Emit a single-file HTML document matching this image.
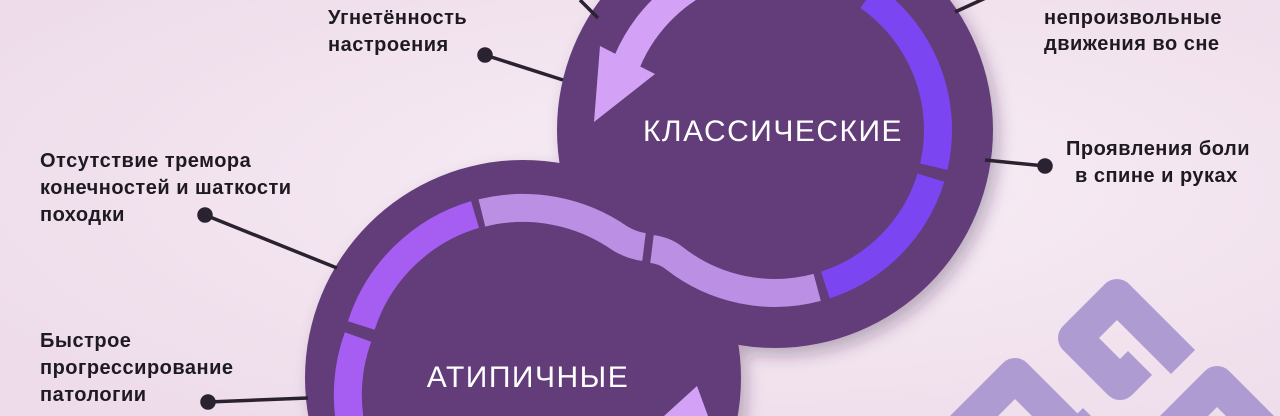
<!DOCTYPE html>
<html><head><meta charset="utf-8"><style>
html,body{margin:0;padding:0;width:1280px;height:416px;overflow:hidden;background:#f2e3ef}
svg{display:block}
text{font-family:"Liberation Sans",sans-serif}
.l{font-size:20px;font-weight:bold;fill:#1e1a22;letter-spacing:0.5px}
</style></head><body>
<svg width="1280" height="416" viewBox="0 0 1280 416" xmlns="http://www.w3.org/2000/svg">
<defs>
<radialGradient id="bg" cx="0.6" cy="0.45" r="0.7"><stop offset="0" stop-color="#f8eef6"/><stop offset="1" stop-color="#eedcea"/></radialGradient>
<filter id="sh" x="-20%" y="-20%" width="140%" height="140%"><feDropShadow dx="6" dy="8" stdDeviation="8" flood-color="#3a1f4a" flood-opacity="0.3"/></filter>
</defs>
<rect width="1280" height="416" fill="url(#bg)"/>
<g fill="none" stroke="#ae9bd2" stroke-width="34" stroke-linejoin="round">
<path d="M1183 362 L1117 296 L1075 338 L1120 383 L1140 363"/>
<path d="M950 440 L1015 375 L1070 430"/>
<path d="M1075 440 L1095 420"/>
<path d="M1160 440 L1217 383 L1280 446"/>
</g>
<g filter="url(#sh)" fill="#633d7a">
<circle cx="523" cy="378" r="218"/>
<circle cx="775" cy="130" r="218"/>
</g>
<g fill="none" stroke-width="28">
<path d="M868.5 -3.5 A163 163 0 0 1 933.8 166.7" stroke="#7c45f2"/>
<path d="M930.9 177.7 A163 163 0 0 1 825.4 285" stroke="#7c45f2"/>
<path d="M817.2 287.4 A163 163 0 0 1 674.6 258.4 C668 253 660 250 652 249" stroke="#bb8fe3"/>
<path d="M644 247 C636 246 628 243 620.5 238.7 A170 170 0 0 0 481.9 213" stroke="#bb8fe3"/>
<path d="M475 214.5 A170 170 0 0 0 361.3 325.5" stroke="#a65ef2"/>
<path d="M358 337 A170 170 0 0 0 357 450" stroke="#a65ef2"/>
<path d="M861 -15 A163 163 0 0 0 627.3 61.1" stroke="#d3a2f7"/>
</g>
<polygon points="600,46 655,74 594,122" fill="#d3a2f7"/>
<polygon points="664,416 708,416 697,386" fill="#d3a2f7"/>
<text x="773" y="141" text-anchor="middle" font-size="30" fill="#fff" letter-spacing="1.5">КЛАССИЧЕСКИЕ</text>
<text x="528" y="387" text-anchor="middle" font-size="30" fill="#fff" letter-spacing="1.5">АТИПИЧНЫЕ</text>
<g stroke="#2a2230" stroke-width="3.5" fill="#2a2230">
<line x1="485" y1="55" x2="563" y2="80"/><circle cx="485" cy="55" r="6"/>
<line x1="580" y1="0" x2="598" y2="18"/>
<line x1="205" y1="215" x2="337" y2="268"/><circle cx="205" cy="215" r="6"/>
<line x1="208" y1="402" x2="308" y2="398"/><circle cx="208" cy="402" r="6"/>
<line x1="985" y1="160" x2="1045" y2="166"/><circle cx="1045" cy="166" r="6"/>
<line x1="955" y1="12" x2="990" y2="-4"/>
</g>
<text class="l" x="328" y="24">Угнетённость</text>
<text class="l" x="328" y="51">настроения</text>
<text class="l" x="40" y="167">Отсутствие тремора</text>
<text class="l" x="40" y="194">конечностей и шаткости</text>
<text class="l" x="40" y="221">походки</text>
<text class="l" x="40" y="347">Быстрое</text>
<text class="l" x="40" y="374">прогрессирование</text>
<text class="l" x="40" y="401">патологии</text>
<text class="l" x="1044" y="24">непроизвольные</text>
<text class="l" x="1044" y="50">движения во сне</text>
<text class="l" x="1066" y="155">Проявления боли</text>
<text class="l" x="1075" y="182">в спине и руках</text>
</svg>
</body></html>
